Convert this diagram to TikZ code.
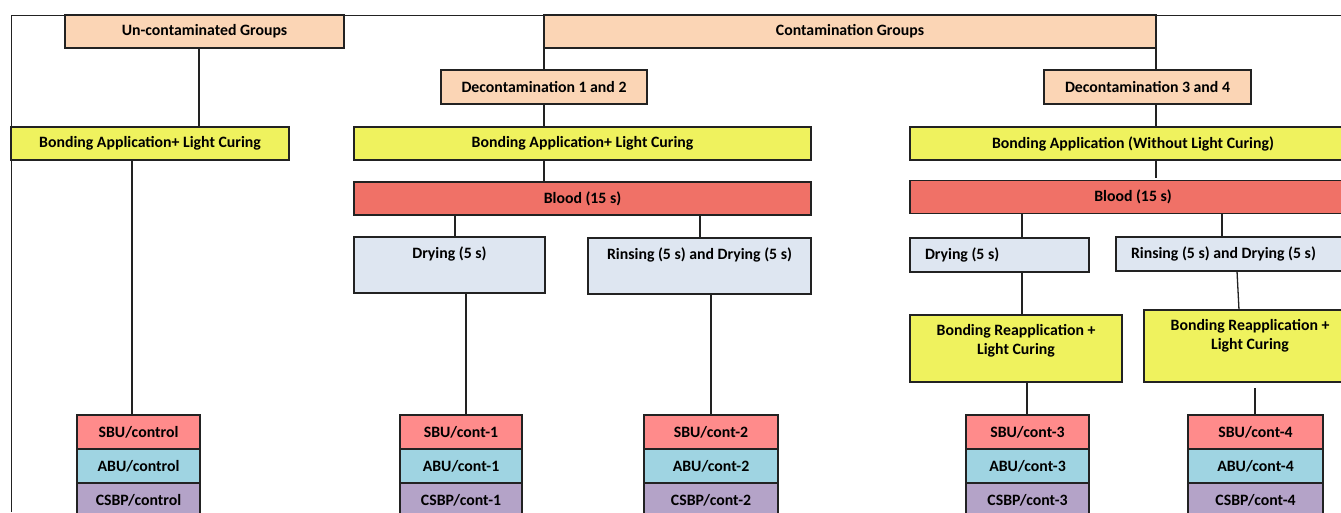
\documentclass[tikz,border=0pt]{standalone}
\usepackage{fontspec}
\setmainfont{Carlito}
\usetikzlibrary{positioning,calc}
\definecolor{fcPeach}{HTML}{FBD5B5}
\definecolor{fcYellow}{HTML}{EFF25E}
\definecolor{fcBlood}{HTML}{F07167}
\definecolor{fcGrey}{HTML}{DEE6F1}
\definecolor{fcSBU}{HTML}{FF8B8B}
\definecolor{fcABU}{HTML}{9FD4E2}
\definecolor{fcCSBP}{HTML}{B4A3C8}
\definecolor{fcLine}{HTML}{222222}
\tikzset{
  fcnode/.style={
    draw=fcLine, line width=1.5pt, inner sep=0pt, outer sep=0pt,
    font=\fontsize{15.8}{19}\selectfont\bfseries, align=center, text=black
  },
  grpbox/.style={fcnode, fill=fcPeach, minimum height=33pt},
  bondbox/.style={fcnode, fill=fcYellow, minimum height=33pt},
  bloodbox/.style={fcnode, fill=fcBlood, minimum height=33pt},
  treatbox/.style={fcnode, fill=fcGrey},
  tallbox/.style={treatbox, minimum height=56pt, text height=11pt, text depth=24pt},
  leftbox/.style={treatbox, minimum height=34pt, align=flush left, inner xsep=15pt},
  reappbox/.style={fcnode, fill=fcYellow},
  sbubox/.style={fcnode, fill=fcSBU, minimum height=34pt},
  abubox/.style={fcnode, fill=fcABU, minimum height=34pt},
  csbpbox/.style={fcnode, fill=fcCSBP, minimum height=34pt},
  link/.style={line width=1.3pt, fcLine},
  frameline/.style={line width=1pt, fcLine}
}
\begin{document}
\begin{tikzpicture}[x=1pt, y=-1pt]
  \useasboundingbox (0,0) rectangle (1341,512);
  \clip (0,0) rectangle (1341,512);

  % outer frame
  \draw[frameline] (1341,15) -- (11,15) -- (11,512);

  % group headers
  \node[grpbox, minimum width=279pt] (uncont) at (204.5,31.5) {Un-contaminated Groups};
  \node[grpbox, minimum width=612pt] (contam) at (850,31.5) {Contamination Groups};
  \node[grpbox, minimum width=206pt, minimum height=34pt] (decA) at (544,87) {Decontamination 1 and 2};
  \node[grpbox, minimum width=207pt, minimum height=34pt] (decB) at (1147.5,87) {Decontamination 3 and 4};

  % bonding
  \node[bondbox, minimum width=278pt] (bondL) at (150,143.5) {Bonding Application+ Light Curing};
  \node[bondbox, minimum width=457pt] (bondM) at (582.5,143.5) {Bonding Application+ Light Curing};
  \node[bondbox, minimum width=446pt] (bondR) at (1133,143.5) {Bonding Application (Without Light Curing)};

  % blood
  \node[bloodbox, minimum width=457pt] (bloodM) at (582.5,198.5) {Blood (15 s)};
  \node[bloodbox, minimum width=446pt] (bloodR) at (1133,197) {Blood (15 s)};

  % drying / rinsing
  \node[tallbox, minimum width=191pt] (dryM) at (449.5,265) {Drying (5 s)};
  \node[tallbox, minimum width=223pt] (rinM) at (699.5,266) {Rinsing (5 s) and Drying (5 s)};
  \node[leftbox, text width=149pt] (dryR) at (999.5,255) {Drying (5 s)};
  \node[leftbox, text width=210pt] (rinR) at (1236,254) {Rinsing (5 s) and Drying (5 s)};

  % reapplication
  \node[reappbox, minimum width=212pt, minimum height=67pt] (reappA) at (1016,348.5)
    {Bonding Reapplication +\\Light Curing\\[-1pt]\mbox{}};
  \node[reappbox, minimum width=212pt, minimum height=72pt] (reappB) at (1250,346)
    {Bonding Reapplication +\\Light Curing\\[4pt]\mbox{}};

  % adhesive groups
  \node[sbubox, minimum width=123pt] (ctrlS) at (138.5,432) {SBU/control};
  \node[abubox, minimum width=123pt, below=0pt of ctrlS] (ctrlA) {ABU/control};
  \node[csbpbox, minimum width=123pt, below=0pt of ctrlA] (ctrlC) {CSBP/control};

  \node[sbubox, minimum width=122pt] (oneS) at (461,432) {SBU/cont-1};
  \node[abubox, minimum width=122pt, below=0pt of oneS] (oneA) {ABU/cont-1};
  \node[csbpbox, minimum width=122pt, below=0pt of oneA] (oneC) {CSBP/cont-1};

  \node[sbubox, minimum width=134pt] (twoS) at (711,432) {SBU/cont-2};
  \node[abubox, minimum width=134pt, below=0pt of twoS] (twoA) {ABU/cont-2};
  \node[csbpbox, minimum width=134pt, below=0pt of twoA] (twoC) {CSBP/cont-2};

  \node[sbubox, minimum width=123pt] (threeS) at (1027.5,432) {SBU/cont-3};
  \node[abubox, minimum width=123pt, below=0pt of threeS] (threeA) {ABU/cont-3};
  \node[csbpbox, minimum width=123pt, below=0pt of threeA] (threeC) {CSBP/cont-3};

  \node[sbubox, minimum width=135pt] (fourS) at (1255.5,432) {SBU/cont-4};
  \node[abubox, minimum width=135pt, below=0pt of fourS] (fourA) {ABU/cont-4};
  \node[csbpbox, minimum width=135pt, below=0pt of fourA] (fourC) {CSBP/cont-4};

  % connectors, un-contaminated branch
  \draw[link] ([xshift=-5.5pt]uncont.south) -- ([xshift=-5.5pt]uncont.south |- bondL.north);
  \draw[link] ([xshift=-6.5pt]ctrlS.north |- bondL.south) -- ([xshift=-6.5pt]ctrlS.north);

  % connectors, decontamination 1 and 2
  \draw[link] (contam.south west) -- (decA.north);
  \draw[link] (decA.south) -- (decA.south |- bondM.north);
  \draw[link] (decA.south |- bondM.south) -- (decA.south |- bloodM.north);
  \draw[link] ([xshift=5.5pt]dryM.north |- bloodM.south) -- ([xshift=5.5pt]dryM.north);
  \draw[link] ([xshift=0.5pt]rinM.north |- bloodM.south) -- ([xshift=0.5pt]rinM.north);
  \draw[link] ([xshift=5pt]oneS.north |- dryM.south) -- ([xshift=5pt]oneS.north);
  \draw[link] (twoS.north |- rinM.south) -- (twoS.north);

  % connectors, decontamination 3 and 4
  \draw[link] (contam.south east) -- (contam.south east |- decB.north);
  \draw[link] (contam.south east |- decB.south) -- (contam.south east |- bondR.north);
  \draw[link] (contam.south east |- bondR.south) -- ([yshift=3pt]contam.south east |- bloodR.north);
  \draw[link] ([xshift=22.5pt]dryR.north |- bloodR.south) -- ([xshift=22.5pt]dryR.north);
  \draw[link] ([xshift=-14pt]rinR.north |- bloodR.south) -- ([xshift=-14pt]rinR.north);
  \draw[link] ([xshift=22.5pt]dryR.south) -- ([xshift=22.5pt]dryR.south |- reappA.north);
  \draw[link] ([xshift=1pt]rinR.south) -- ([xshift=-11pt]reappB.north);
  \draw[link] ([xshift=-0.5pt]threeS.north |- reappA.south) -- ([xshift=-0.5pt]threeS.north);
  \draw[link] ([yshift=-6pt, xshift=-0.5pt]fourS.north |- reappB.south) -- ([xshift=-0.5pt]fourS.north);
\end{tikzpicture}
\end{document}
